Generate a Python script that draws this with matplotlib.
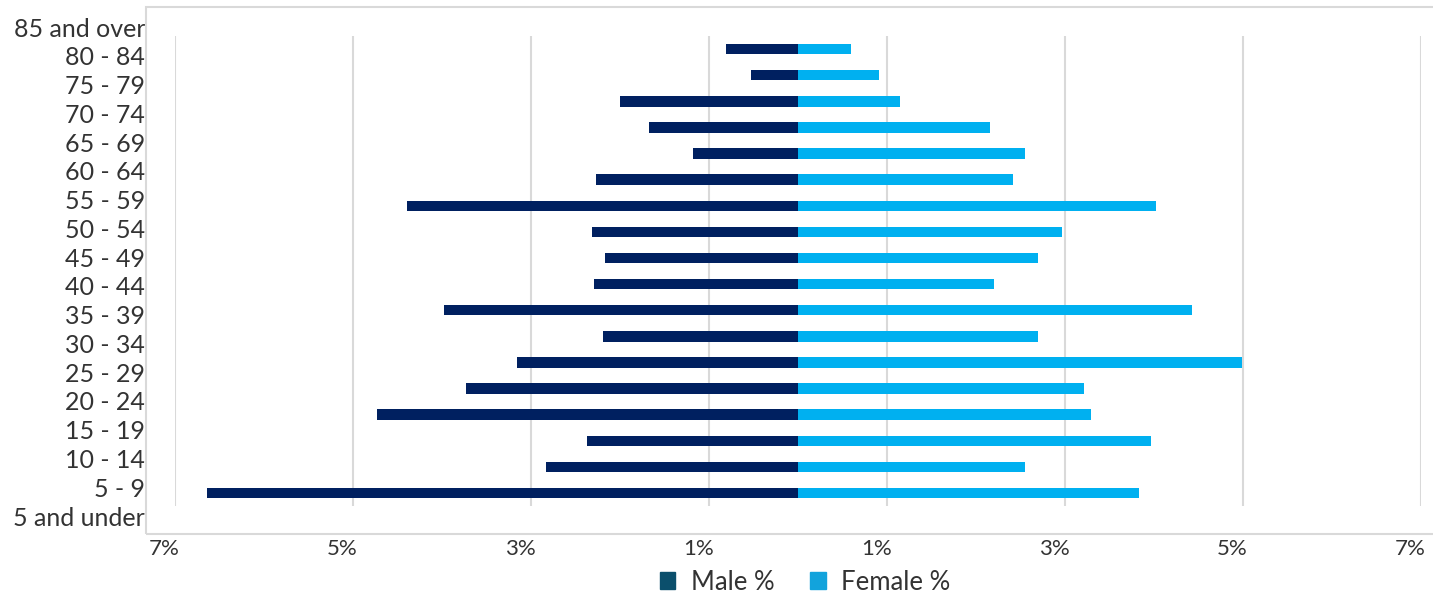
import numpy as np
import matplotlib
matplotlib.use('Agg')
import matplotlib.pyplot as plt
import matplotlib.transforms as mtransforms
from matplotlib.patches import Patch, Rectangle

plt.rcParams['font.family'] = ['Lato', 'DejaVu Sans']

# age groups, top to bottom
age_groups = ['85 and over', '80 - 84', '75 - 79', '70 - 74', '65 - 69', '60 - 64',
              '55 - 59', '50 - 54', '45 - 49', '40 - 44', '35 - 39', '30 - 34',
              '25 - 29', '20 - 24', '15 - 19', '10 - 14', '5 - 9', '5 and under']
male_pct = [0.81, 0.52, 2.00, 1.67, 1.17, 2.27, 4.39, 2.31, 2.16, 2.29, 3.97, 2.19,
            3.15, 3.73, 4.73, 2.37, 2.83, 6.64]
female_pct = [0.60, 0.92, 1.15, 2.16, 2.56, 2.42, 4.03, 2.97, 2.70, 2.21, 4.43, 2.70,
              4.99, 3.22, 3.30, 3.97, 2.55, 3.84]
x_ticks = [-7, -5, -3, -1, 1, 3, 5, 7]

text_col = '#333333'
grid_col = '#d9d9d9'

fig = plt.figure(figsize=(14.33, 6.01), dpi=100)
ax = fig.add_axes([0.1218, 0.158, 0.8696, 0.782])

# outer chart border (light grey box)
fig.add_artist(Rectangle((0.1019, 0.1115), 0.95, 0.877, transform=fig.transFigure,
                         fill=False, edgecolor=grid_col, linewidth=1.5, clip_on=False))

y = np.arange(len(age_groups))
ax.barh(y, [-v for v in male_pct], height=0.4, color='#002060', zorder=3)
ax.barh(y, female_pct, height=0.4, color='#00b0f0', zorder=3)

ax.set_xticks(x_ticks)
ax.set_xticklabels([f'{abs(t)}%' for t in x_ticks])
ax.set_yticks([])
ax.set_xlim(-7, 7)
ax.set_ylim(len(age_groups) - 0.5, -0.5)

# category labels are spread a bit wider than the bars in the original
label_pos = np.linspace(-0.77, 17.96, len(age_groups))
trans = mtransforms.blended_transform_factory(ax.transAxes, ax.transData)
for pos, name in zip(label_pos, age_groups):
    ax.text(-0.0237, pos, name, transform=trans, ha='right', va='center',
            fontsize=18, color=text_col, clip_on=False)

ax.tick_params(axis='x', length=0, pad=24, labelsize=16, labelcolor=text_col)
offset = mtransforms.ScaledTranslation(-10 / 100, 0, fig.dpi_scale_trans)
for lbl in ax.get_xticklabels():
    lbl.set_transform(lbl.get_transform() + offset)

ax.grid(axis='x', color=grid_col, linewidth=1.5, zorder=0)
for s in ax.spines.values():
    s.set_visible(False)

handles = [Patch(color='#0b4f6c', label='Male %'), Patch(color='#12a3dc', label='Female %')]
fig.legend(handles=handles, loc='center', bbox_to_anchor=(0.5618, 0.0316), ncol=2,
           frameon=False, fontsize=18.5, handlelength=0.6, handleheight=0.6,
           handletextpad=0.6, columnspacing=1.4, labelcolor=text_col)

fig.savefig('out.png', dpi=100)
